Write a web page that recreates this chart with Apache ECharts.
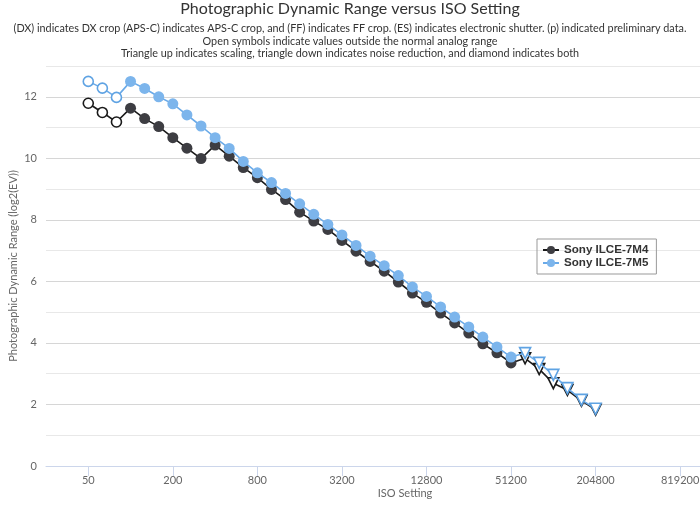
<!DOCTYPE html>
<html><head><meta charset="utf-8">
<script src="https://cdn.jsdelivr.net/npm/echarts@6/dist/echarts.min.js"></script>
<style>html,body{margin:0;padding:0;background:#fff}#c{width:700px;height:505px}</style>
</head><body><div id="c"></div>
<script>
const isoSettings = [50,64,80,100,125,160,200,250,320,400,500,640,800,1000,1250,1600,2000,2500,3200,4000,5000,6400,8000,10000,12800,16000,20000,25600,32000,40000,51200,64000,80000,102400,128000,160000,204800];
const dr7M4 = [11.79,11.49,11.18,11.63,11.29,11.03,10.67,10.33,9.99,10.43,10.07,9.70,9.37,8.99,8.66,8.25,7.96,7.69,7.33,6.98,6.65,6.33,5.98,5.62,5.32,4.97,4.65,4.32,3.97,3.68,3.35,3.50,3.15,2.69,2.47,2.12,1.83];
const dr7M5 = [12.50,12.28,11.98,12.50,12.27,12.00,11.77,11.41,11.05,10.67,10.32,9.90,9.53,9.21,8.86,8.52,8.18,7.85,7.51,7.17,6.82,6.51,6.19,5.82,5.51,5.17,4.84,4.52,4.19,3.87,3.54,3.67,3.35,2.96,2.53,2.15,1.86];
// symbol kinds: 'open' = outside analog range (open circle), 'nr' = noise reduction (triangle down), 'n' = normal
const kind7M4 = ['open','open','open','n','n','n','n','n','n','n','n','n','n','n','n','n','n','n','n','n','n','n','n','n','n','n','n','n','n','n','n','nr','nr','nr','nr','nr','nr'];
const kind7M5 = ['open','open','open','n','n','n','n','n','n','n','n','n','n','n','n','n','n','n','n','n','n','n','n','n','n','n','n','n','n','n','n','nr','nr','nr','nr','nr','nr'];
const xTickIso = [50,200,800,3200,12800,51200,204800,819200];
const seriesNames = ['Sony ILCE-7M4','Sony ILCE-7M5'];

const toX = iso => Math.round(3*Math.log2(iso/50))/3;
const tickVals = xTickIso.map(toX);

function build(vals, kinds, lineColor){
  return vals.map((v,i)=>{
    const k = kinds[i];
    const d = {value:[toX(isoSettings[i]), v]};
    if(k==='open'){
      d.symbol='circle'; d.symbolSize=10;
      d.itemStyle={color:'#fff',borderColor:lineColor,borderWidth:1.6};
    } else if(k==='nr'){
      d.symbol='triangle'; d.symbolRotate=180; d.symbolSize=11;
      d.itemStyle={color:'#fff',borderColor:lineColor,borderWidth:1.6};
    }
    return d;
  });
}

const chart = echarts.init(document.getElementById('c'));
const FONT = 'Lato';
chart.setOption({
  animation:false,
  title:{
    text:'Photographic Dynamic Range versus ISO Setting',
    subtext:'(DX) indicates DX crop (APS-C) indicates APS-C crop, and (FF) indicates FF crop. (ES) indicates electronic shutter. (p) indicated preliminary data.\nOpen symbols indicate values outside the normal analog range\nTriangle up indicates scaling, triangle down indicates noise reduction, and diamond indicates both',
    left:'center', top:-4, itemGap:5,
    textStyle:{fontFamily:FONT,fontSize:16,fontWeight:'normal',color:'#333'},
    subtextStyle:{fontFamily:FONT,fontSize:10.8,color:'#333',lineHeight:12.8,align:'center'}
  },
  legend:{
    orient:'vertical', left:537, top:239,
    padding:[5,8,5,5], itemGap:1, itemWidth:16, itemHeight:10,
    borderColor:'#999', borderWidth:1, borderRadius:0,
    textStyle:{fontFamily:'Liberation Sans',fontSize:11.6,fontWeight:'bold',color:'#333'},
    data:seriesNames
  },
  grid:{left:46,right:0,top:66,bottom:39,containLabel:false,outerBoundsMode:'none'},
  xAxis:{
    type:'value', min:-1, max:14.47,
    name:'ISO Setting', nameLocation:'middle', nameGap:22, nameMoveOverlap:false,
    nameTextStyle:{fontFamily:FONT,fontSize:11,color:'#666',padding:[0,0,0,64]},
    axisLine:{show:true,lineStyle:{color:'#ccd6eb'}},
    axisTick:{show:true,length:10,customValues:tickVals,lineStyle:{color:'#ccd6eb'}},
    axisLabel:{customValues:tickVals,margin:9,fontFamily:FONT,fontSize:11,color:'#666',
      formatter:v=>String(Math.round(50*Math.pow(2,v)))},
    splitLine:{show:false}
  },
  yAxis:{
    type:'value', min:0, max:13, interval:1,
    name:'Photographic Dynamic Range (log2(EV))', nameLocation:'middle', nameGap:27, nameMoveOverlap:false,
    nameTextStyle:{fontFamily:FONT,fontSize:11,color:'#666'},
    axisLine:{show:false}, axisTick:{show:false},
    axisLabel:{margin:9,fontFamily:FONT,fontSize:11,color:'#666',formatter:v=>(v%2===0?String(v):'')},
    splitLine:{lineStyle:{color:['#d6d6d6','#e8e8e8'],width:1}}
  },
  series:[
    {name:seriesNames[0],type:'line',data:build(dr7M4,kind7M4,'#1a1a1a'),
     symbol:'circle',symbolSize:11,color:'#3d3d42',
     lineStyle:{color:'#1a1a1a',width:1.6},itemStyle:{color:'#3d3d42'},z:2},
    {name:seriesNames[1],type:'line',data:build(dr7M5,kind7M5,'#5fa3e3'),
     symbol:'circle',symbolSize:11,color:'#7cb5ec',
     lineStyle:{color:'#6aaae8',width:1.6},itemStyle:{color:'#7cb5ec'},z:3}
  ]
});
</script></body></html>
